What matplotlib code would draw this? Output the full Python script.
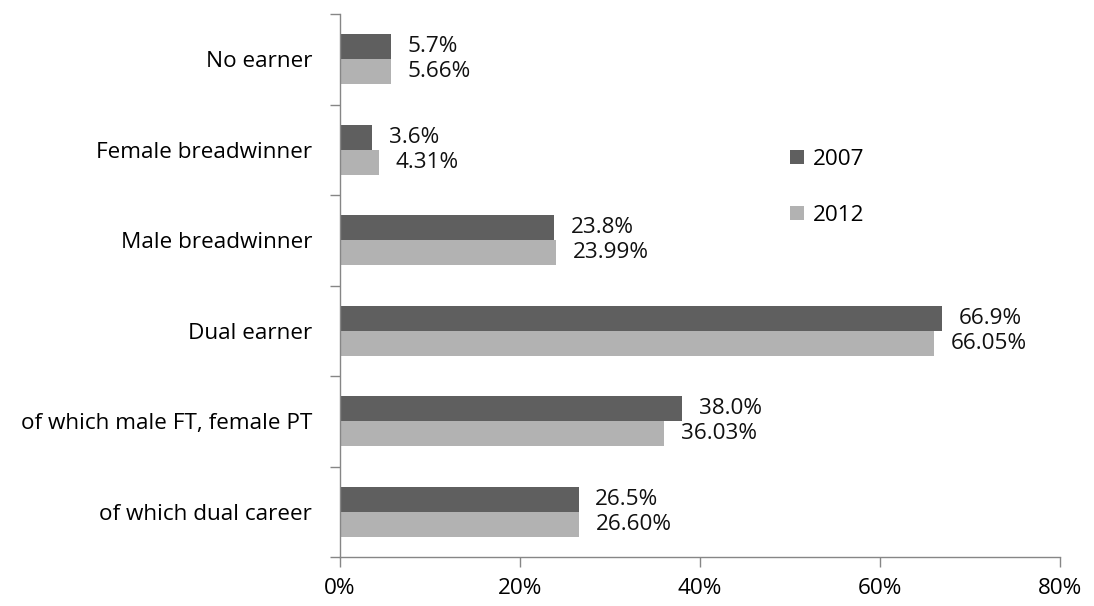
import matplotlib.pyplot as plt
import numpy as np

categories = ["No earner", "Female breadwinner", "Male breadwinner", "Dual earner",
              "of which male FT, female PT", "of which dual career"]
vals_2007 = [5.7, 3.6, 23.8, 66.9, 38.0, 26.5]
vals_2012 = [5.66, 4.31, 23.99, 66.05, 36.03, 26.60]
labels_2007 = ["5.7%", "3.6%", "23.8%", "66.9%", "38.0%", "26.5%"]
labels_2012 = ["5.66%", "4.31%", "23.99%", "66.05%", "36.03%", "26.60%"]
xticks = [0, 20, 40, 60, 80]

plt.rcParams['font.family'] = ['Open Sans', 'DejaVu Sans']
fs = 16.2

fig = plt.figure(figsize=(10.94, 6.06), dpi=100)
ax = fig.add_axes([340/1094, 1-557/606, 720/1094, 543/606])

y = np.arange(len(categories))
h = 0.278
c07, c12 = '#5f5f5f', '#b2b2b2'
b1 = ax.barh(y - h/2, vals_2007, height=h, color=c07, label='2007')
b2 = ax.barh(y + h/2, vals_2012, height=h, color=c12, label='2012')

for bars, labs in ((b1, labels_2007), (b2, labels_2012)):
    ax.bar_label(bars, labels=labs, padding=12, fontsize=fs, color='#111111')

ax.set_xlim(0, 80)
ax.set_ylim(len(categories) - 0.5, -0.5)
ax.set_xticks(xticks)
ax.set_xticklabels([f"{t}%" for t in xticks], fontsize=fs)
ax.set_yticks(y)
ax.set_yticklabels(categories, fontsize=fs)
ax.tick_params(axis='y', length=0, pad=20)
ax.set_yticks(np.arange(len(categories) + 1) - 0.5, minor=True)
ax.tick_params(axis='y', which='minor', length=7, color='#868686', width=1)
ax.tick_params(axis='x', length=7, color='#868686', width=1, pad=8)

for s in ('top', 'right'):
    ax.spines[s].set_visible(False)
for s in ('left', 'bottom'):
    ax.spines[s].set_color('#868686')
    ax.spines[s].set_linewidth(1)

ax.legend(loc='upper left', bbox_to_anchor=(450/720, (557-149)/543), frameon=False,
          fontsize=fs, handlelength=0.6, handleheight=0.6, labelspacing=1.55,
          handletextpad=0.4, borderpad=0, borderaxespad=0)

fig.savefig('out.png', dpi=100)
